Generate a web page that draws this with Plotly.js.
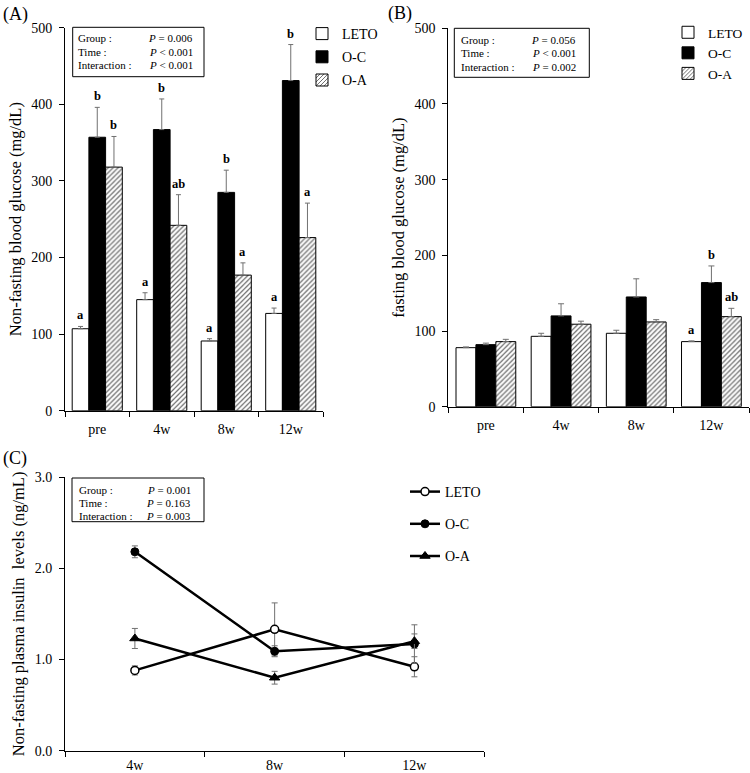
<!DOCTYPE html>
<html>
<head>
<meta charset="utf-8">
<script src="https://cdn.plot.ly/plotly-3.0.1.min.js"></script>
<style>html,body{margin:0;padding:0;background:#fff;}#chart{width:750px;height:773px;}</style>
</head>
<body>
<div id="chart"></div>
<script>
// ---------------- DATA ----------------
const groups = ['LETO', 'O-C', 'O-A'];
const timesAB = ['pre', '4w', '8w', '12w'];
const timesC = ['4w', '8w', '12w'];

// (A) Non-fasting blood glucose (mg/dL)
const A_LETO = [107, 145, 91, 127];
const A_LETO_err = [3, 9, 3, 7];
const A_OC = [357, 367, 285, 431];
const A_OC_err = [39, 40, 29, 47];
const A_OA = [318, 242, 177, 226];
const A_OA_err = [40, 40, 16, 45];
const A_LETO_lbl = ['a', 'a', 'a', 'a'];
const A_OC_lbl = ['b', 'b', 'b', 'b'];
const A_OA_lbl = ['b', 'ab', 'a', 'a'];

// (B) Fasting blood glucose (mg/dL)
const B_LETO = [78, 93, 97, 86];
const B_LETO_err = [1, 4, 4, 1];
const B_OC = [82, 120, 145, 164];
const B_OC_err = [2, 16, 24, 22];
const B_OA = [86, 109, 112, 119];
const B_OA_err = [3, 4, 3, 11];
const B_LETO_lbl = ['', '', '', 'a'];
const B_OC_lbl = ['', '', '', 'b'];
const B_OA_lbl = ['', '', '', 'ab'];

// (C) Non-fasting plasma insulin (ng/mL)
const C_LETO = [0.88, 1.33, 0.92];
const C_LETO_err = [0.05, 0.29, 0.11];
const C_OC = [2.18, 1.09, 1.17];
const C_OC_err = [0.065, 0.06, 0.21];
const C_OA = [1.23, 0.80, 1.20];
const C_OA_err = [0.11, 0.07, 0.08];

// statistics boxes
const statLabels = ['Group :', 'Time :', 'Interaction :'];
const statsA = ['= 0.006', '< 0.001', '< 0.001'];
const statsB = ['= 0.056', '< 0.001', '= 0.002'];
const statsC = ['= 0.001', '= 0.163', '= 0.003'];

// ---------------- STYLE / LAYOUT ----------------
const W = 750, H = 773;
const X = p => p / W;
const Y = p => 1 - p / H;
const FONT = 'Liberation Serif, Times New Roman, Times, serif';

const barStyles = [
  {color: '#ffffff'},
  {color: '#000000'},
  {color: '#ffffff', pattern: {shape: '/', fgcolor: '#6a6a6a', bgcolor: '#ffffff', size: 3.5, solidity: 0.35}}
];

function barTraces(series, errs, xa, ya, w, legendName, showlegend) {
  return series.map((vals, i) => ({
    type: 'bar',
    name: groups[i],
    x: timesAB,
    y: vals,
    xaxis: xa, yaxis: ya,
    width: w,
    offset: -1.5 * w + i * w,
    marker: Object.assign({line: {color: '#000', width: 1}}, barStyles[i]),
    error_y: {type: 'data', array: errs[i], arrayminus: errs[i].map(() => 0), symmetric: false,
              color: '#707070', thickness: 1, width: 2.5},
    legend: legendName,
    legendgroup: legendName + i,
    showlegend: showlegend,
    hoverinfo: 'skip'
  }));
}

const wA = 0.259, wB = 0.265;
const tracesA = barTraces([A_LETO, A_OC, A_OA], [A_LETO_err, A_OC_err, A_OA_err], 'x', 'y', wA, 'legend', true);
const tracesB = barTraces([B_LETO, B_OC, B_OA], [B_LETO_err, B_OC_err, B_OA_err], 'x2', 'y2', wB, 'legend2', true);
tracesB.forEach(t => { t.error_y.width = 3; });

const lineMarkers = [
  {symbol: 'circle', size: 8, color: '#ffffff', line: {color: '#000', width: 1.5}},
  {symbol: 'circle', size: 8, color: '#000000', line: {color: '#000', width: 1}},
  {symbol: 'triangle-up', size: 9, color: '#000000', line: {color: '#000', width: 1}}
];
const tracesC = [C_LETO, C_OC, C_OA].map((vals, i) => ({
  type: 'scatter', mode: 'lines+markers',
  name: groups[i],
  x: timesC, y: vals,
  xaxis: 'x3', yaxis: 'y3',
  line: {color: '#000', width: 2.5},
  marker: lineMarkers[i],
  error_y: {type: 'data', array: [C_LETO_err, C_OC_err, C_OA_err][i], color: '#707070', thickness: 1, width: 3},
  legend: 'legend3',
  legendgroup: 'c' + i,
  hoverinfo: 'skip'
}));

// significance letters
const annotations = [];
function letterAnns(series, errs, labels, xa, ya, w) {
  series.forEach((vals, i) => {
    vals.forEach((v, j) => {
      const t = labels[i][j];
      if (!t) return;
      annotations.push({
        xref: xa, yref: ya,
        x: j - 1.5 * w + i * w + w / 2,
        y: v + errs[i][j],
        text: '<b>' + t + '</b>',
        showarrow: false, yanchor: 'bottom', xanchor: 'center', yshift: 2,
        font: {family: FONT, size: 12.5, color: '#000'}
      });
    });
  });
}
letterAnns([A_LETO, A_OC, A_OA], [A_LETO_err, A_OC_err, A_OA_err], [A_LETO_lbl, A_OC_lbl, A_OA_lbl], 'x', 'y', wA);
letterAnns([B_LETO, B_OC, B_OA], [B_LETO_err, B_OC_err, B_OA_err], [B_LETO_lbl, B_OC_lbl, B_OA_lbl], 'x2', 'y2', wB);

// stats boxes
const shapes = [];
function statBox(vals, box, rowsY, leftX, rightX) {
  shapes.push({type: 'rect', xref: 'paper', yref: 'paper',
    x0: X(box[0]), x1: X(box[1]), y0: Y(box[3]), y1: Y(box[2]),
    line: {color: '#000', width: 1}, fillcolor: 'rgba(0,0,0,0)'});
  statLabels.forEach((lab, k) => {
    annotations.push({xref: 'paper', yref: 'paper', x: X(leftX), y: Y(rowsY[k]),
      xanchor: 'left', yanchor: 'middle', showarrow: false, text: lab,
      font: {family: FONT, size: 11, color: '#000'}});
    annotations.push({xref: 'paper', yref: 'paper', x: X(rightX), y: Y(rowsY[k]),
      xanchor: 'right', yanchor: 'middle', showarrow: false, text: '<i>P</i> ' + vals[k],
      font: {family: FONT, size: 11, color: '#000'}});
  });
}
statBox(statsA, [72.7, 204, 27.3, 76.7], [38, 51.5, 65], 76, 195);
statBox(statsB, [454.3, 589.3, 28.3, 77.3], [40, 53.3, 66.7], 459, 578);
statBox(statsC, [72, 204, 478, 521.7], [490, 503, 516], 77, 193);

// panel labels
[['(A)', 1, 14], ['(B)', 386, 13], ['(C)', 1, 458]].forEach(p => {
  annotations.push({xref: 'paper', yref: 'paper', x: X(p[1]), y: Y(p[2]), xanchor: 'left', yanchor: 'middle',
    showarrow: false, text: p[0], font: {family: FONT, size: 18, color: '#000'}});
});

function xAxis(domain, anchor, cats, standoff) {
  return {domain: domain, anchor: anchor, type: 'category', categoryorder: 'array', categoryarray: cats,
    range: [-0.5, cats.length - 0.5], showline: true, linecolor: '#000', linewidth: 1,
    ticks: 'outside', tickson: 'boundaries', ticklen: 5, tickcolor: '#000', tickwidth: 1,
    showgrid: false, zeroline: false, fixedrange: true, ticklabelstandoff: standoff,
    tickfont: {family: FONT, size: 14, color: '#000'}};
}
function yAxis(domain, anchor, range, dtick, title, fmt) {
  return {domain: domain, anchor: anchor, range: range, dtick: dtick, tick0: 0, tickformat: fmt,
    showline: true, linecolor: '#000', linewidth: 1, ticks: 'outside', ticklen: 5, tickcolor: '#000',
    showgrid: false, zeroline: false, fixedrange: true, ticklabelstandoff: 4,
    tickfont: {family: FONT, size: 14, color: '#000'},
    title: {text: title, font: {family: FONT, size: 16.5, color: '#000'}, standoff: 5}};
}

const legendBase = {font: {family: FONT, size: 14, color: '#000'}, bgcolor: 'rgba(0,0,0,0)',
  xanchor: 'left', yanchor: 'top', itemwidth: 30, traceorder: 'grouped', itemclick: false, itemdoubleclick: false};

const layout = {
  width: W, height: H,
  margin: {l: 0, r: 0, t: 0, b: 0},
  paper_bgcolor: '#fff', plot_bgcolor: 'rgba(0,0,0,0)',
  font: {family: FONT, color: '#000'},
  barmode: 'overlay',
  xaxis: xAxis([X(65), X(323)], 'y', timesAB, 5),
  yaxis: yAxis([Y(410.7), Y(27.7)], 'x', [0, 500], 100, 'Non-fasting blood glucose (mg/dL)'),
  xaxis2: xAxis([X(448.3), X(749)], 'y2', timesAB, 5),
  yaxis2: yAxis([Y(406.7), Y(28.3)], 'x2', [0, 500], 100, 'fasting blood glucose (mg/dL)'),
  xaxis3: xAxis([X(65), X(484.3)], 'y3', timesC, 1),
  yaxis3: yAxis([Y(750.7), Y(477)], 'x3', [0, 3], 1, 'Non-fasting plasma insulin  levels (ng/mL)', '.1f'),
  legend: Object.assign({}, legendBase, {x: X(302), y: Y(18), tracegroupgap: 2}),
  legend2: Object.assign({}, legendBase, {x: X(668), y: Y(17), tracegroupgap: 0, font: {family: FONT, size: 13.5, color: '#000'}}),
  legend3: Object.assign({}, legendBase, {x: X(405), y: Y(476), tracegroupgap: 11}),
  annotations: annotations,
  shapes: shapes,
  showlegend: true
};

Plotly.newPlot('chart', tracesA.concat(tracesB, tracesC), layout, {staticPlot: true, displayModeBar: false});
</script>
</body>
</html>
